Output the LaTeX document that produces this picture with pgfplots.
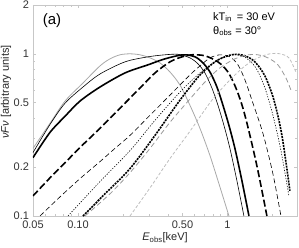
\documentclass[border=0pt]{standalone}
\usepackage{pgfplots}
\pgfplotsset{compat=1.18}
\usepackage{fontspec}
\setmainfont{Liberation Sans}
\definecolor{frame}{gray}{0.78}
\definecolor{gA}{gray}{0.66}
\definecolor{gH}{gray}{0.60}
\definecolor{gI}{gray}{0.74}
\begin{document}
\begin{tikzpicture}
\begin{axis}[
  scale only axis, width=264pt, height=211pt,
  xmode=log, ymode=log,
  xmin=0.05, xmax=2.92, ymin=0.1, ymax=2,
  xtick={0.05,0.1,0.5,1}, xticklabels={0.05,0.10,0.50,1},
  ytick={0.1,0.2,0.5,1,2}, yticklabels={0.1,0.2,0.5,1,2},
  minor xtick={0.06,0.07,0.08,0.09,0.2,0.3,0.4,0.6,0.7,0.8,0.9,2},
  minor ytick={0.3,0.4,0.6,0.7,0.8,0.9},
  /pgf/number format/assume math mode=true,
  axis line style={frame, line width=0.6pt},
  tick style={frame, line width=0.5pt},
  tick align=inside, major tick length=3pt, minor tick length=2pt,
  ticklabel style={font=\fontsize{11}{13}\selectfont, text=black!80},
  xticklabel style={yshift=-1.5pt},
  yticklabel style={xshift=-0.5pt},
  every axis plot/.append style={smooth, tension=0.5, no markers},
  clip=true,
]
% A gray solid
\addplot[gA, line width=0.8pt] coordinates {(0.05,0.261)(0.065,0.373)(0.0819,0.511)(0.108,0.661)(0.1403,0.842)(0.1637,0.931)(0.1909,0.986)(0.2228,1.0)(0.26,0.986)(0.3032,0.944)(0.3536,0.879)(0.4124,0.773)(0.4812,0.642)(0.561,0.482)(0.6548,0.347)(0.7637,0.236)(0.8909,0.151)(1.0233,0.1)};
% B thin black
\addplot[black, line width=0.6pt] coordinates {(0.05,0.246)(0.065,0.367)(0.0819,0.496)(0.108,0.624)(0.1403,0.751)(0.2062,0.892)(0.2938,0.958)(0.3819,0.986)(0.4667,0.993)(0.561,0.944)(0.6354,0.867)(0.707,0.762)(0.7875,0.615)(0.8639,0.482)(0.9475,0.362)(1.039,0.261)(1.157,0.165)(1.289,0.1)};
% C thick black
\addplot[black, line width=1.6pt] coordinates {(0.05,0.229)(0.065,0.328)(0.0819,0.412)(0.1031,0.511)(0.1403,0.624)(0.2062,0.762)(0.2938,0.855)(0.3819,0.931)(0.504,0.986)(0.6066,0.958)(0.6855,0.879)(0.7637,0.773)(0.8507,0.624)(0.9331,0.482)(1.0233,0.362)(1.122,0.261)(1.25,0.165)(1.393,0.1)};
% D thick dashed
\addplot[black, line width=1.6pt, dash pattern=on 7pt off 3pt] coordinates {(0.05,0.133)(0.065,0.172)(0.0819,0.213)(0.1031,0.2645)(0.1403,0.347)(0.1909,0.462)(0.26,0.615)(0.3274,0.762)(0.4124,0.892)(0.4965,0.958)(0.5793,0.986)(0.707,0.972)(0.8639,0.892)(1.0077,0.773)(1.14,0.615)(1.27,0.462)(1.414,0.314)(1.6,0.190)(1.837,0.1)};
% E thin long dashed
\addplot[black, line width=0.6pt, dash pattern=on 5pt off 3pt] coordinates {(0.0557,0.1)(0.0758,0.1312)(0.1031,0.170)(0.1403,0.2164)(0.1767,0.261)(0.2228,0.314)(0.3032,0.418)(0.4124,0.556)(0.561,0.741)(0.6548,0.842)(0.7637,0.944)(0.8909,0.986)(1.039,0.958)(1.176,0.855)(1.31,0.690)(1.458,0.518)(1.728,0.323)(2.015,0.182)(2.28,0.1)};
% F thin dotted
\addplot[black, line width=0.6pt, dash pattern=on 1.2pt off 1.5pt] coordinates {(0.0857,0.1)(0.1403,0.163)(0.2228,0.253)(0.3274,0.389)(0.4812,0.581)(0.6548,0.762)(0.8249,0.892)(0.9772,0.972)(1.14,0.986)(1.33,0.944)(1.551,0.819)(1.782,0.615)(2.015,0.418)(2.28,0.253)(2.578,0.133)};
% G thick dotted
\addplot[black, line width=1.6pt, dash pattern=on 2pt off 1pt] coordinates {(0.108,0.1)(0.1516,0.137)(0.2228,0.196)(0.3274,0.314)(0.4812,0.518)(0.6548,0.741)(0.8249,0.892)(0.9622,0.958)(1.122,0.993)(1.31,0.972)(1.527,0.892)(1.782,0.730)(2.047,0.518)(2.315,0.314)(2.618,0.143)};
% H gray dashed
\addplot[gH, line width=0.8pt, dash pattern=on 5pt off 3pt] coordinates {(0.1114,0.1)(0.1637,0.137)(0.2228,0.185)(0.3032,0.261)(0.4124,0.378)(0.5528,0.518)(0.707,0.670)(0.8909,0.819)(1.122,0.931)(1.371,0.986)(1.6,0.986)(1.866,0.944)(2.177,0.855)(2.462,0.710)(2.659,0.598)};
% I light gray short dashed
\addplot[gI, line width=0.8pt, dash pattern=on 3pt off 2pt] coordinates {(0.2228,0.1)(0.3032,0.149)(0.4124,0.226)(0.561,0.333)(0.7875,0.518)(1.039,0.690)(1.31,0.842)(1.6,0.944)(1.924,1.0)(2.245,1.0)(2.578,0.944)(2.871,0.773)};
\end{axis}
\node[rotate=90, font=\fontsize{11}{13}\selectfont, text=black!85] at ([xshift=-27pt,yshift=124pt]current axis.south west) {\textit{νFν} [arbitrary units]};
\node[font=\fontsize{11}{13}\selectfont, text=black!85] at ([xshift=132pt,yshift=-22pt]current axis.south west) {\textit{E}\textsubscript{obs}[keV]};
\node[font=\fontsize{15}{17}\selectfont] at ([xshift=19pt,yshift=195pt]current axis.south west) {(a)};
\node[anchor=west, font=\fontsize{11}{13}\selectfont, inner sep=0pt] at ([xshift=180pt,yshift=199pt]current axis.south west) {kT\textsubscript{in}\, = 30 eV};
\node[anchor=west, font=\fontsize{11}{13}\selectfont, inner sep=0pt] at ([xshift=180pt,yshift=185pt]current axis.south west) {θ\textsubscript{obs} = 30°};
\pgfresetboundingbox
\path ([xshift=-33pt,yshift=-32pt]current axis.south west) rectangle ++(299pt,248pt);
\end{tikzpicture}
\end{document}
